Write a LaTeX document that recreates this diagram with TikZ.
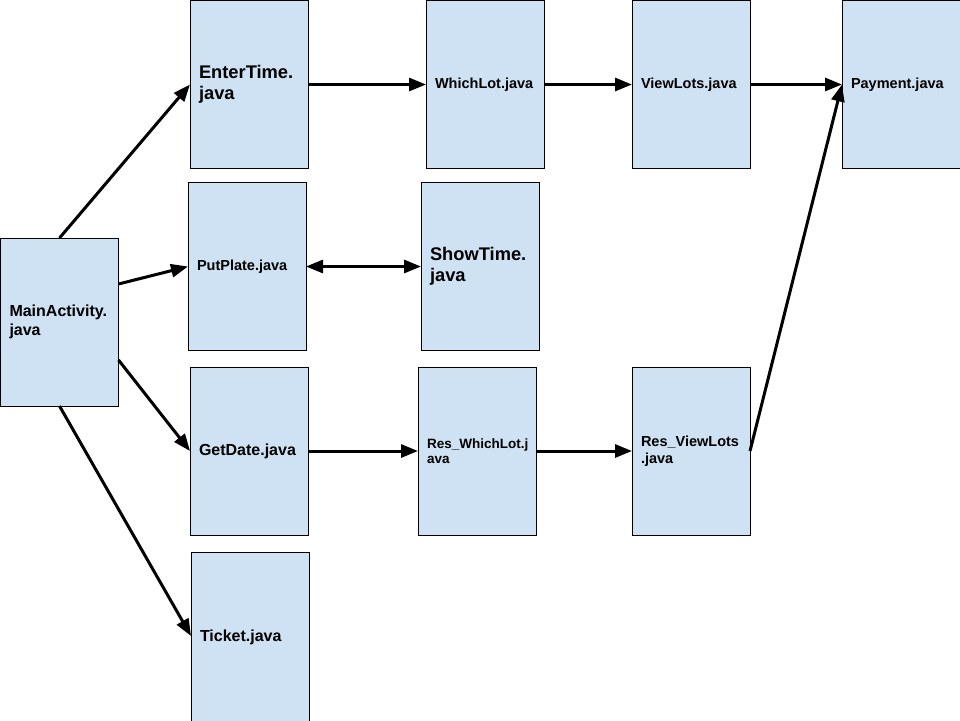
\documentclass[tikz,border=0pt]{standalone}
\usepackage{fontspec}
\setmainfont{Liberation Sans}
\usetikzlibrary{arrows.meta}
\definecolor{boxblue}{HTML}{CFE2F3}
\begin{document}
\begin{tikzpicture}[x=1pt,y=-1pt,
  cls/.style={draw=black, line width=1pt, fill=boxblue, minimum width=118pt,
    minimum height=168pt, text width=100pt, inner xsep=9pt, inner ysep=0pt,
    outer sep=0pt, align=left, anchor=north west},
  big/.style={font=\bfseries\fontsize{18.3}{21}\selectfont},
  mid/.style={font=\bfseries\fontsize{16}{19}\selectfont},
  sml/.style={font=\bfseries\fontsize{14.5}{17}\selectfont},
  tny/.style={font=\bfseries\fontsize{13.5}{15}\selectfont},
  conn/.style={line width=3pt, -{Triangle[length=17pt,width=13pt]}},
  dconn/.style={line width=3pt, {Triangle[length=17pt,width=13pt]}-{Triangle[length=17pt,width=13pt]}},
]
\useasboundingbox (0,0) rectangle (960,720);

\node[cls,mid] (main) at (0.5,238) {MainActivity.\\java};
\node[cls,big] (enter) at (190,0.5) {EnterTime.\\java};
\node[cls,sml] (put) at (188,182.5) {PutPlate.java};
\node[cls,mid] (get) at (190,367) {GetDate.java};
\node[cls,mid,minimum height=170pt] (ticket) at (191,552) {Ticket.java};
\node[cls,sml] (which) at (426,0.5) {WhichLot.java};
\node[cls,big] (show) at (421,182.5) {ShowTime.\\java};
\node[cls,tny] (reswhich) at (418,367) {Res\_WhichLot.j\\ava};
\node[cls,sml] (view) at (632,0.5) {ViewLots.java};
\node[cls,sml] (resview) at (632,367) {Res\_ViewLots\\.java};
\node[cls,sml] (pay) at (842,0.5) {Payment.java};

\draw[conn] (main.north) -- (enter.west);
\draw[conn] ([yshift=38pt]main.east) -- (put.west);
\draw[conn] ([yshift=-38pt]main.east) -- (get.west);
\draw[conn] (main.south) -- ([yshift=1pt]ticket.west);
\draw[conn] (enter.east) -- (which.west);
\draw[dconn] (put.east) -- (show.west);
\draw[conn] (which.east) -- (view.west);
\draw[conn] (view.east) -- (pay.west);
\draw[conn] (get.east) -- (reswhich.west);
\draw[conn] (reswhich.east) -- (resview.west);
\draw[conn] (resview.east) -- (pay.west);
\end{tikzpicture}
\end{document}
